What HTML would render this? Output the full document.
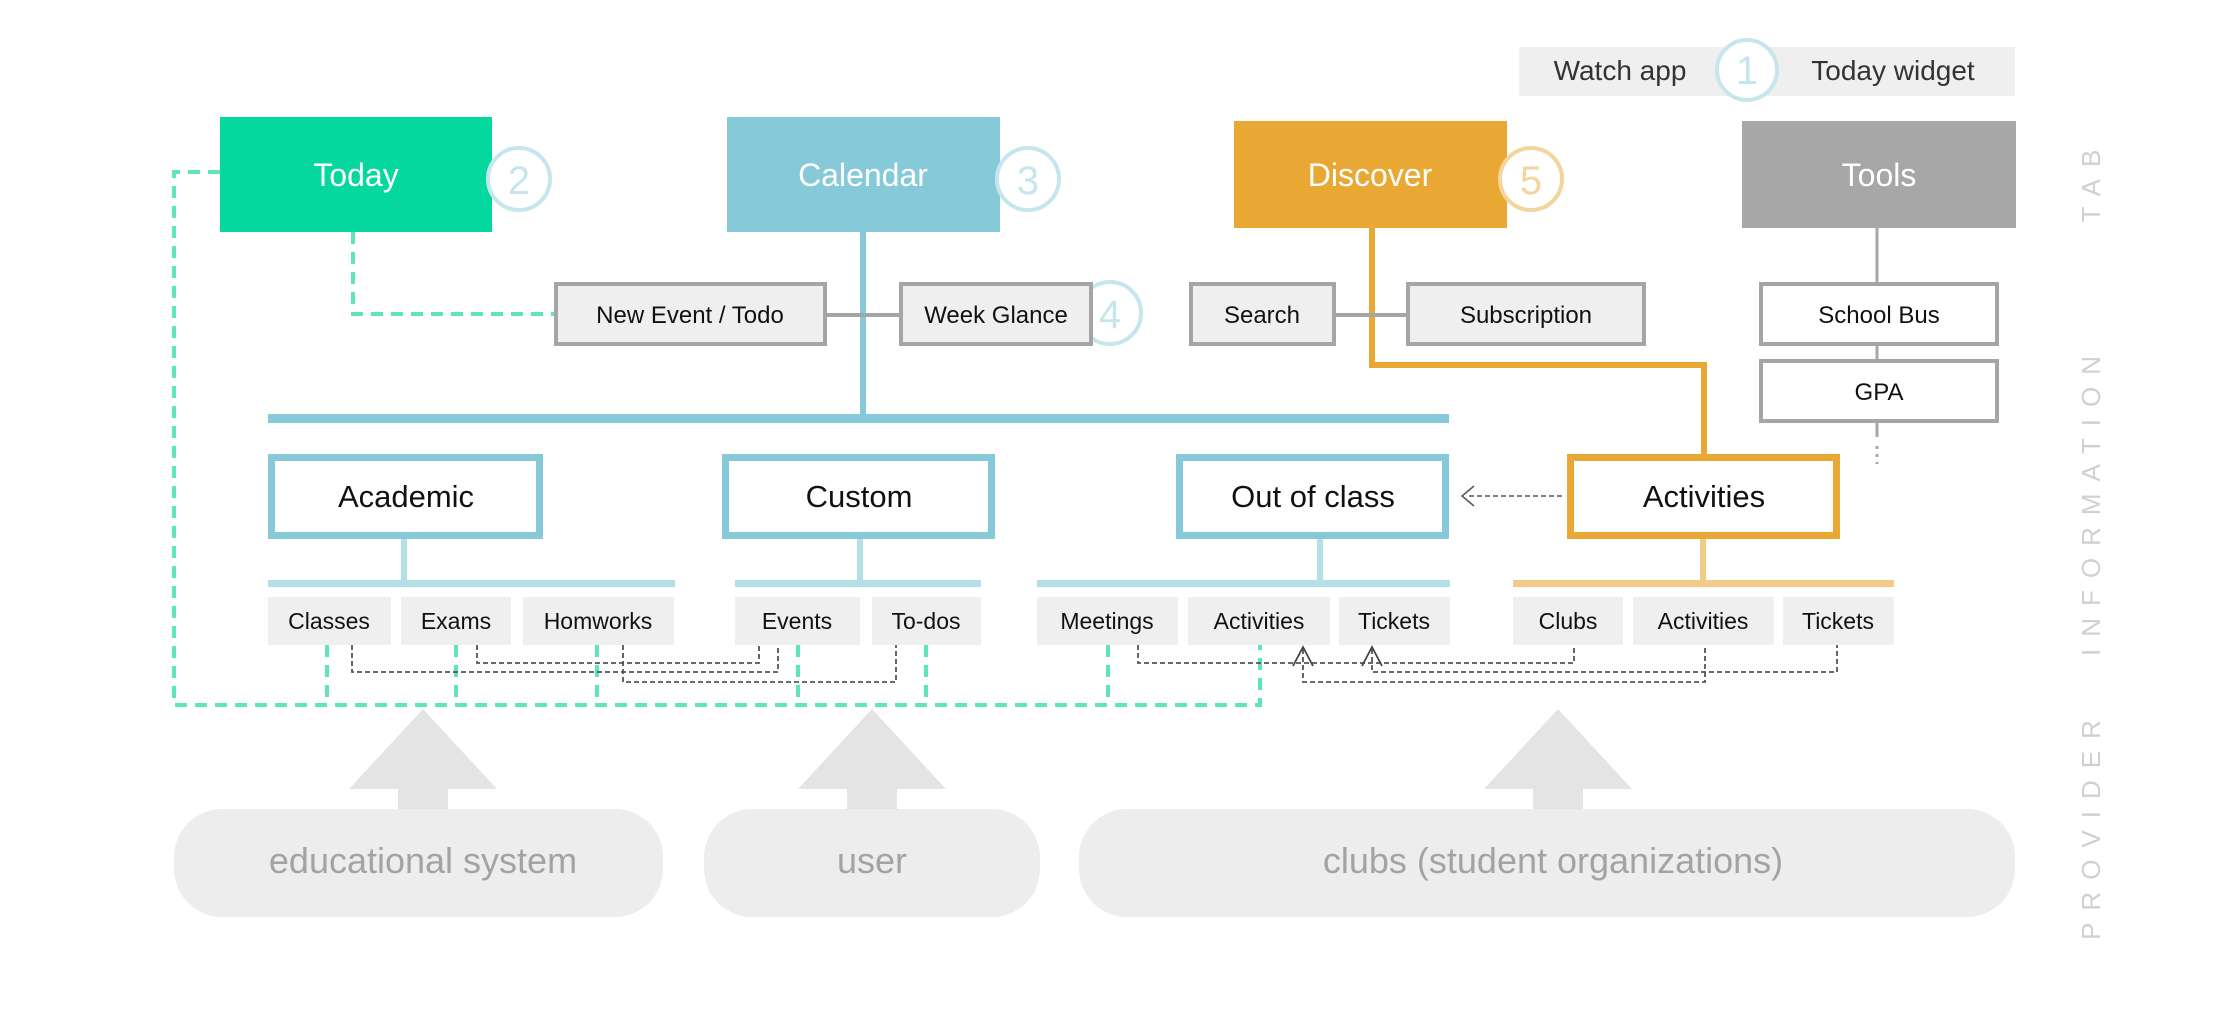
<!DOCTYPE html>
<html><head><meta charset="utf-8"><style>
html,body{margin:0;padding:0;background:#fff;}
svg{display:block;font-family:"Liberation Sans",sans-serif;}
</style></head><body>
<svg width="2224" height="1013" viewBox="0 0 2224 1013" xmlns="http://www.w3.org/2000/svg">
<defs>
<marker id="oa" markerWidth="14" markerHeight="14" refX="7" refY="1" orient="auto-start-reverse" markerUnits="userSpaceOnUse">
</marker>
</defs>
<!-- Watch app / Today widget -->
<rect x="1519" y="47" width="496" height="49" fill="#efefef"/>
<text x="1620" y="80" font-size="28" fill="#333" text-anchor="middle">Watch app</text>
<text x="1893" y="80" font-size="28" fill="#333" text-anchor="middle">Today widget</text>
<circle cx="1747" cy="70" r="30" fill="#fff" stroke="#c6e6ee" stroke-width="4"/>
<text x="1747" y="84" font-size="40" fill="#c6e6ee" text-anchor="middle">1</text>

<!-- Green dashed -->
<g stroke="#5ee6b8" stroke-width="4" stroke-dasharray="12,8" fill="none">
<path d="M220 172 H174 V705 H1260 V645"/>
<path d="M353 232 V314 H555"/>
<path d="M327 645 V705 M456 645 V705 M597 645 V705 M798 645 V705 M926 645 V705 M1108 645 V705"/>
</g>

<!-- Tabs -->
<rect x="220" y="117" width="272" height="115" fill="#04d89f"/>
<text x="356" y="186" font-size="32" fill="#fff" text-anchor="middle">Today</text>
<circle cx="519" cy="179" r="31" fill="#fff" stroke="#c6e6ee" stroke-width="4"/>
<text x="519" y="194" font-size="40" fill="#c6e6ee" text-anchor="middle">2</text>

<line x1="863" y1="230" x2="863" y2="418" stroke="#86c9d9" stroke-width="6"/>
<rect x="727" y="117" width="273" height="115" fill="#86c9d9"/>
<text x="863" y="186" font-size="32" fill="#fff" text-anchor="middle">Calendar</text>
<circle cx="1028" cy="179" r="31" fill="#fff" stroke="#c6e6ee" stroke-width="4"/>
<text x="1028" y="194" font-size="40" fill="#c6e6ee" text-anchor="middle">3</text>

<path d="M1372 226 V365 H1704 V456" stroke="#e9a833" stroke-width="6" fill="none"/>
<rect x="1234" y="121" width="273" height="107" fill="#e9a833"/>
<text x="1370" y="186" font-size="32" fill="#fff" text-anchor="middle">Discover</text>
<circle cx="1531" cy="179" r="31" fill="#fff" stroke="#f3d59e" stroke-width="4"/>
<text x="1531" y="194" font-size="40" fill="#f3d59e" text-anchor="middle">5</text>

<line x1="1877" y1="228" x2="1877" y2="437" stroke="#a8a7a7" stroke-width="3"/>
<line x1="1877" y1="446" x2="1877" y2="464" stroke="#a8a7a7" stroke-width="3" stroke-dasharray="3,5"/>
<rect x="1742" y="121" width="274" height="107" fill="#a8a7a7"/>
<text x="1879" y="186" font-size="32" fill="#fff" text-anchor="middle">Tools</text>

<!-- second row -->
<line x1="826" y1="315" x2="899" y2="315" stroke="#a5a5a5" stroke-width="4"/>
<line x1="1335" y1="315" x2="1407" y2="315" stroke="#a5a5a5" stroke-width="4"/>
<g stroke="#a5a5a5" stroke-width="4">
<rect x="556" y="284" width="269" height="60" fill="#efefef"/>
<rect x="901" y="284" width="190" height="60" fill="#efefef"/>
<rect x="1191" y="284" width="143" height="60" fill="#efefef"/>
<rect x="1408" y="284" width="236" height="60" fill="#efefef"/>
<rect x="1761" y="284" width="236" height="60" fill="#fff"/>
<rect x="1761" y="361" width="236" height="60" fill="#fff"/>
</g>
<circle cx="1110" cy="313" r="31" fill="none" stroke="#c6e6ee" stroke-width="4"/>
<rect x="901" y="284" width="190" height="60" fill="#efefef" stroke="#a5a5a5" stroke-width="4"/>
<text x="1110" y="328" font-size="40" fill="#c6e6ee" text-anchor="middle">4</text>
<rect x="1093" y="295" width="8" height="40" fill="#fff" opacity="0"/>
<g font-size="24" fill="#111" text-anchor="middle">
<text x="690" y="323">New Event / Todo</text>
<text x="996" y="323">Week Glance</text>
<text x="1262" y="323">Search</text>
<text x="1526" y="323">Subscription</text>
<text x="1879" y="323">School Bus</text>
<text x="1879" y="400">GPA</text>
</g>

<!-- big blue bar -->
<rect x="268" y="414" width="1181" height="9" fill="#86c9d9"/>

<!-- category boxes -->
<g fill="#fff" stroke-width="7">
<rect x="271.5" y="457.5" width="268" height="78" stroke="#86c9d9"/>
<rect x="725.5" y="457.5" width="266" height="78" stroke="#86c9d9"/>
<rect x="1179.5" y="457.5" width="266" height="78" stroke="#86c9d9"/>
<rect x="1570.5" y="457.5" width="266" height="78" stroke="#e9a833"/>
</g>
<g font-size="31" fill="#111" text-anchor="middle">
<text x="406" y="507">Academic</text>
<text x="859" y="507">Custom</text>
<text x="1313" y="507">Out of class</text>
<text x="1704" y="507">Activities</text>
</g>
<!-- dashed arrow -->
<line x1="1562" y1="496" x2="1466" y2="496" stroke="#555" stroke-width="1.5" stroke-dasharray="5,3"/>
<path d="M1474 486 L1462 496 L1474 506" fill="none" stroke="#555" stroke-width="1.5"/>

<!-- stems and sub-bars -->
<g stroke-width="6">
<line x1="404" y1="539" x2="404" y2="581" stroke="#b3dfe7"/>
<line x1="860" y1="539" x2="860" y2="581" stroke="#b3dfe7"/>
<line x1="1320" y1="539" x2="1320" y2="581" stroke="#b3dfe7"/>
<line x1="1703" y1="539" x2="1703" y2="581" stroke="#f2cb88"/>
</g>
<rect x="268" y="580" width="407" height="7" fill="#b3dfe7"/>
<rect x="735" y="580" width="246" height="7" fill="#b3dfe7"/>
<rect x="1037" y="580" width="413" height="7" fill="#b3dfe7"/>
<rect x="1513" y="580" width="381" height="7" fill="#f2cb88"/>

<!-- sub items -->
<g fill="#efefef">
<rect x="268" y="597" width="123" height="48"/>
<rect x="401" y="597" width="110" height="48"/>
<rect x="523" y="597" width="151" height="48"/>
<rect x="735" y="597" width="125" height="48"/>
<rect x="872" y="597" width="109" height="48"/>
<rect x="1037" y="597" width="141" height="48"/>
<rect x="1188" y="597" width="142" height="48"/>
<rect x="1339" y="597" width="111" height="48"/>
<rect x="1513" y="597" width="110" height="48"/>
<rect x="1633" y="597" width="141" height="48"/>
<rect x="1783" y="597" width="111" height="48"/>
</g>
<g font-size="23" fill="#111" text-anchor="middle">
<text x="329" y="629">Classes</text>
<text x="456" y="629">Exams</text>
<text x="598" y="629">Homworks</text>
<text x="797" y="629">Events</text>
<text x="926" y="629">To-dos</text>
<text x="1107" y="629">Meetings</text>
<text x="1259" y="629">Activities</text>
<text x="1394" y="629">Tickets</text>
<text x="1568" y="629">Clubs</text>
<text x="1703" y="629">Activities</text>
<text x="1838" y="629">Tickets</text>
</g>

<!-- dark dashed -->
<g stroke="#555" stroke-width="1.8" stroke-dasharray="5,3" fill="none">
<path d="M352 645 V672 H778 V645"/>
<path d="M477 645 V663 H759 V645"/>
<path d="M623 645 V682 H896 V645"/>
<path d="M1138 645 V663 H1574 V645"/>
<path d="M1303 649 V682 H1705 V645"/>
<path d="M1372 649 V672 H1837 V645"/>
</g>
<path d="M1293 666 L1303 647 L1313 666" fill="none" stroke="#444" stroke-width="1.8"/>
<path d="M1362 666 L1372 647 L1382 666" fill="none" stroke="#444" stroke-width="1.8"/>

<!-- providers -->
<g fill="#e4e4e4">
<path d="M423 709 L497 789 L448 789 L448 810 L398 810 L398 789 L349 789 Z"/>
<path d="M872 709 L946 789 L897 789 L897 810 L847 810 L847 789 L798 789 Z"/>
<path d="M1558 709 L1632 789 L1583 789 L1583 810 L1533 810 L1533 789 L1484 789 Z"/>
</g>
<g fill="#ededed">
<rect x="174" y="809" width="489" height="108" rx="48"/>
<rect x="704" y="809" width="336" height="108" rx="48"/>
<rect x="1079" y="809" width="936" height="108" rx="48"/>
</g>
<g font-size="36" fill="#a3a3a3" text-anchor="middle">
<text x="423" y="873">educational system</text>
<text x="872" y="873">user</text>
<text x="1553" y="873">clubs (student organizations)</text>
</g>

<!-- side labels -->
<g font-size="26" fill="#d0d0d0" text-anchor="middle" letter-spacing="12">
<text transform="translate(2100,180) rotate(-90)">TAB</text>
<text transform="translate(2100,500) rotate(-90)">INFORMATION</text>
<text transform="translate(2100,824) rotate(-90)">PROVIDER</text>
</g>
</svg>
</body></html>
